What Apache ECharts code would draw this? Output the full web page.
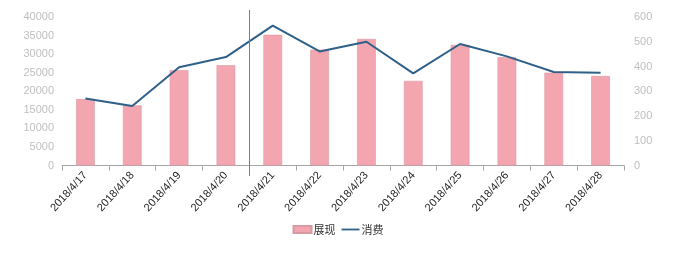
<!DOCTYPE html>
<html><head><meta charset="utf-8">
<script src="https://cdn.jsdelivr.net/npm/echarts@6/dist/echarts.min.js"></script>
<style>html,body{margin:0;padding:0;background:#fff}#c{width:676px;height:255px}</style>
</head><body><div id="c"></div>
<script>
var categories = ['2018/4/17','2018/4/18','2018/4/19','2018/4/20','2018/4/21','2018/4/22','2018/4/23','2018/4/24','2018/4/25','2018/4/26','2018/4/27','2018/4/28'];
var impressions = [17900, 16200, 25700, 27000, 35200, 31200, 34100, 22800, 32500, 29200, 25000, 24100];
var spend = [271, 240, 397, 438, 565, 461, 500, 372, 491, 441, 378, 375];
var leftTicks = [0, 40000, 5000];
var rightTicks = [0, 600, 100];
var seriesNames = ['展现', '消费'];

var font = "'Liberation Sans','Noto Sans CJK SC',sans-serif";
var chart = echarts.init(document.getElementById('c'));
chart.setOption({
  animation: false,
  textStyle: {fontFamily: font},
  grid: {left: 62, right: 52, top: 17, bottom: 89.5},
  legend: {
    data: [{name: seriesNames[0], icon: 'rect'}, {name: seriesNames[1], icon: 'path://M0,0H40V4H0Z'}],
    bottom: 15, left: 'center', itemWidth: 18, itemHeight: 7, itemGap: 6,
    textStyle: {fontSize: 11, color: '#333', fontFamily: "'Noto Sans CJK SC',sans-serif", padding: [0,0,0,-3]}
  },
  xAxis: {
    type: 'category', data: categories, boundaryGap: true,
    axisLine: {lineStyle: {color: '#A6A6A6'}},
    axisTick: {show: true, length: 5, lineStyle: {color: '#A6A6A6'}},
    axisLabel: {rotate: 48, color: '#222', fontSize: 11, margin: 8, interval: 0}
  },
  yAxis: [{
    type: 'value', min: leftTicks[0], max: leftTicks[1], interval: leftTicks[2],
    axisLine: {show: false}, axisTick: {show: false}, splitLine: {show: false},
    axisLabel: {color: '#BFBFBF', fontSize: 11, margin: 8, formatter: function (v) { return String(v); }}
  }, {
    type: 'value', min: rightTicks[0], max: rightTicks[1], interval: rightTicks[2],
    axisLine: {show: false}, axisTick: {show: false}, splitLine: {show: false},
    axisLabel: {color: '#BFBFBF', fontSize: 11, margin: 10}
  }],
  series: [{
    name: seriesNames[0], type: 'bar', data: impressions, barWidth: '40%',
    itemStyle: {color: '#F4A6B0', borderColor: '#D99AA4', borderWidth: 0.6}
  }, {
    name: seriesNames[1], type: 'line', yAxisIndex: 1, data: spend,
    symbol: 'none', lineStyle: {color: '#2F6089', width: 2}, itemStyle: {color: '#2F6089'}
  }]
});
var p3 = chart.convertToPixel({xAxisIndex: 0}, categories[3]);
var p4 = chart.convertToPixel({xAxisIndex: 0}, categories[4]);
var xm = Math.round((p3 + p4) / 2) + 0.5;
chart.setOption({graphic: [{type: 'line', shape: {x1: xm, y1: 10, x2: xm, y2: 176}, style: {stroke: '#7F7F7F', lineWidth: 1}, z: 10}]});
</script></body></html>
